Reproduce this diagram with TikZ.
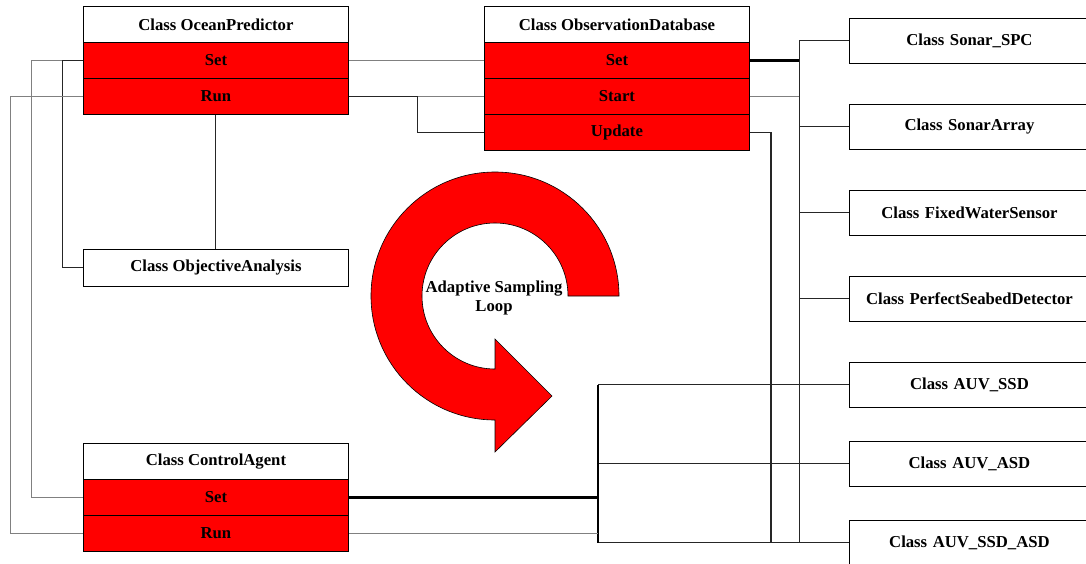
\documentclass[tikz,border=0pt]{standalone}
\usepackage{fontspec}
\setmainfont{Liberation Serif}
\begin{document}
\begin{tikzpicture}[x=1pt,y=1pt,
  txt/.style={font=\fontsize{16.7}{19}\selectfont\bfseries},
  cell/.style={txt, draw=black, line width=0.9pt, minimum width=265pt, minimum height=36pt, inner sep=0pt, anchor=north west},
  hdr/.style={cell, fill=white},
  meth/.style={cell, fill=red},
  rbox/.style={txt, draw=black, line width=0.9pt, fill=white, minimum width=240pt, minimum height=45pt, inner sep=0pt, anchor=north west, text width=238pt, align=center},
  wire/.style={line width=1pt, draw=black!85},
  gwire/.style={line width=1pt, draw=black!50},
  twire/.style={line width=2.2pt, draw=black},
  loop/.style={fill=red, draw=black, line width=0.6pt}
]
\useasboundingbox (0,0) rectangle (1086,-563);

% adaptive sampling loop arrow
\path[loop] (619,-296) arc[start angle=0, end angle=270, radius=124]
  -- (495,-452) -- (552,-396) -- (495,-339) -- (495,-369)
  arc[start angle=270, end angle=0, radius=73] -- cycle;
\node[txt, align=center] (loopl) at (494,-298) {Adaptive Sampling\\Loop};

% Ocean predictor
\node[hdr]  (op)    at (83,-6)  {Class OceanPredictor};
\node[meth] (opset) at (83,-42) {Set};
\node[meth] (oprun) at (83,-78) {Run};
\node[hdr, minimum height=37pt] (oa) at (83,-249) {Class ObjectiveAnalysis};

% Observation database
\node[hdr]  (od)      at (484,-6)   {Class ObservationDatabase};
\node[meth] (odset)   at (484,-42)  {Set};
\node[meth] (odstart) at (484,-78)  {Start};
\node[meth] (odupd)   at (484,-114) {Update};

% Control agent
\node[hdr]  (ca)    at (83,-443) {Class ControlAgent};
\node[meth] (caset) at (83,-479) {Set};
\node[meth] (carun) at (83,-515) {Run};

% right column
\node[rbox] (r1) at (849,-18)  {Class Sonar\_SPC};
\node[rbox] (r2) at (849,-104) {Class SonarArray};
\node[rbox] (r3) at (849,-190) {Class FixedWaterSensor};
\node[rbox] (r4) at (849,-276) {Class PerfectSeabedDetector};
\node[rbox] (r5) at (849,-362) {Class AUV\_SSD};
\node[rbox] (r6) at (849,-441) {Class AUV\_ASD};
\node[rbox] (r7) at (849,-520) {Class AUV\_SSD\_ASD};

\coordinate (busR) at (799,0);
\coordinate (busU) at (771,0);
\coordinate (busL) at (598,0);

% left-hand connectors
\draw[gwire] (opset.west) -- ++(-52,0) |- (caset.west);
\draw[wire]  (oa.west) -- ++(-21,0) |- (opset.west);
\draw[gwire] (oprun.west) -- ++(-73,0) |- (carun.west);
\draw[wire]  (oprun.south) -- (oa.north);

% predictor to database
\draw[gwire] (opset.east) -- (odset.west);
\draw[wire]  (oprun.east) -- ++(69,0) coordinate (j1);
\draw[gwire] (j1) -- (odstart.west);
\draw[wire]  (j1) |- (odupd.west);

% database to sensors
\draw[twire] (odset.east) -- (odset.east -| busR);
\draw[gwire] (odstart.east) -- (odstart.east -| busR);
\draw[wire, line width=1.4pt]  (odupd.east) -| (busU |- r7.west);
\draw[wire]  (busR |- r1.west) -- (busR |- r7.west);
\foreach \r in {r1,r2,r3,r4}{\draw[wire] (\r.west -| busR) -- (\r.west);}
\foreach \r in {r5,r6,r7}{\draw[wire] (\r.west -| busL) -- (\r.west);}
\draw[twire] (busL |- r5.west) -- (busL |- r7.west);

% control agent to vehicles
\draw[twire] (caset.east) -- (caset.east -| busL);
\draw[gwire] (carun.east) -- (carun.east -| busL);
\end{tikzpicture}
\end{document}
